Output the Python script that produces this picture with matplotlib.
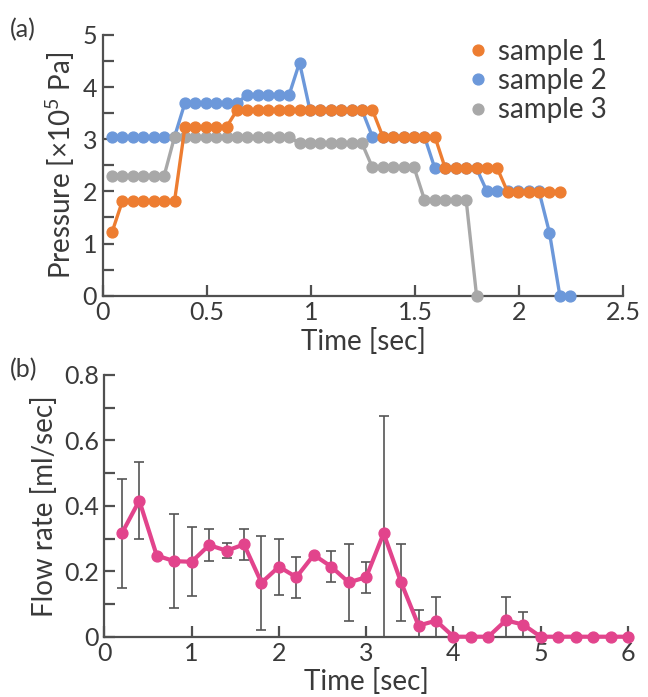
import matplotlib
matplotlib.use("Agg")
import matplotlib.pyplot as plt
from matplotlib.lines import Line2D

plt.rcParams['font.family'] = ['Lato', 'DejaVu Sans']
plt.rcParams['mathtext.fontset'] = 'custom'
plt.rcParams['mathtext.rm'] = 'Lato'
plt.rcParams['mathtext.it'] = 'Lato:italic'

# ---------------- data: panel (a) ----------------
time_a = [0.045, 0.095, 0.145, 0.195, 0.245, 0.295, 0.345, 0.395, 0.445, 0.495,
          0.545, 0.595, 0.645, 0.695, 0.745, 0.795, 0.845, 0.895, 0.945, 0.995,
          1.045, 1.095, 1.145, 1.195, 1.245, 1.295, 1.345, 1.395, 1.445, 1.495,
          1.545, 1.595, 1.645, 1.695, 1.745, 1.795, 1.845, 1.895, 1.945, 1.995,
          2.045, 2.095, 2.145, 2.195, 2.245]

sample1 = [1.22, 1.82, 1.82, 1.82, 1.82, 1.82, 1.82, 3.24, 3.24, 3.24,
           3.24, 3.24, 3.56, 3.56, 3.56, 3.56, 3.56, 3.56, 3.56, 3.56,
           3.56, 3.56, 3.56, 3.56, 3.56, 3.56, 3.05, 3.05, 3.05, 3.05,
           3.05, 3.05, 2.44, 2.44, 2.44, 2.44, 2.44, 2.44, 1.98, 1.98,
           1.98, 1.98, 1.98, 1.98]

sample2 = [3.05, 3.05, 3.05, 3.05, 3.05, 3.05, 3.05, 3.70, 3.70, 3.70,
           3.70, 3.70, 3.70, 3.85, 3.85, 3.85, 3.85, 3.85, 4.47, 3.56,
           3.56, 3.56, 3.56, 3.56, 3.56, 3.05, 3.05, 3.05, 3.05, 3.05,
           3.05, 2.44, 2.44, 2.44, 2.44, 2.44, 2.00, 2.00, 2.00, 2.00,
           2.00, 2.00, 1.21, 0.00, 0.00]

sample3 = [2.30, 2.30, 2.30, 2.30, 2.30, 2.30, 3.05, 3.05, 3.05, 3.05,
           3.05, 3.05, 3.05, 3.05, 3.05, 3.05, 3.05, 3.05, 2.92, 2.92,
           2.92, 2.92, 2.92, 2.92, 2.92, 2.46, 2.46, 2.46, 2.46, 2.46,
           1.84, 1.84, 1.84, 1.84, 1.84, 0.00]

series_names = ["sample 1", "sample 2", "sample 3"]
xticks_a = [0, 0.5, 1, 1.5, 2, 2.5]
xticklabels_a = ["0", "0.5", "1", "1.5", "2", "2.5"]
yticks_a = [0, 1, 2, 3, 4, 5]

# ---------------- data: panel (b) ----------------
time_b = [0.2, 0.4, 0.6, 0.8, 1.0, 1.2, 1.4, 1.6, 1.8, 2.0,
          2.2, 2.4, 2.6, 2.8, 3.0, 3.2, 3.4, 3.6, 3.8, 4.0,
          4.2, 4.4, 4.6, 4.8, 5.0, 5.2, 5.4, 5.6, 5.8, 6.0]
flow = [0.316, 0.416, 0.248, 0.231, 0.229, 0.280, 0.263, 0.282, 0.165, 0.214,
        0.182, 0.250, 0.214, 0.166, 0.182, 0.316, 0.166, 0.034, 0.049, 0.0,
        0.0, 0.0, 0.050, 0.037, 0.0, 0.0, 0.0, 0.0, 0.0, 0.0]
flow_err = [0.166, 0.117, 0.0, 0.143, 0.105, 0.048, 0.023, 0.046, 0.144, 0.086,
            0.063, 0.0, 0.048, 0.118, 0.047, 0.360, 0.117, 0.048, 0.071, 0.0,
            0.0, 0.0, 0.071, 0.038, 0.0, 0.0, 0.0, 0.0, 0.0, 0.0]
xticks_b = [0, 1, 2, 3, 4, 5, 6]
yticks_b = [0, 0.2, 0.4, 0.6, 0.8]
yticklabels_b = ["0", "0.2", "0.4", "0.6", "0.8"]

# ---------------- styling ----------------
c_orange = "#ED7D31"
c_blue = "#6C98DA"
c_gray = "#A8A8A8"
c_pink = "#E2448C"
c_axis = "#505050"
c_text = "#3A3A3A"

fig = plt.figure(figsize=(6.48, 6.97), dpi=100)
fig.patch.set_facecolor("white")

axa = fig.add_axes([0.1585, 0.5758, 0.8035, 0.3740])
axb = fig.add_axes([0.1611, 0.0865, 0.8080, 0.3755])

TICK_FS = 18
LABEL_FS = 20


def style_axis(ax):
    for s in ("top", "right"):
        ax.spines[s].set_visible(False)
    for s in ("left", "bottom"):
        ax.spines[s].set_color(c_axis)
        ax.spines[s].set_linewidth(1.6)
    ax.tick_params(axis="both", which="both", direction="in", color=c_axis,
                   width=1.6, labelsize=TICK_FS, labelcolor=c_text, pad=4)
    ax.tick_params(axis="both", which="major", length=8)
    ax.tick_params(axis="both", which="minor", length=8)


# panel (a)
style_axis(axa)
lw = 2.4
ms = 7.8
s2, = axa.plot(time_a[:len(sample2)], sample2, "-o", color=c_blue, lw=lw, ms=ms,
               zorder=3, clip_on=False)
s3, = axa.plot(time_a[:len(sample3)], sample3, "-o", color=c_gray, lw=lw, ms=ms,
               zorder=4, clip_on=False)
s1, = axa.plot(time_a[:len(sample1)], sample1, "-o", color=c_orange, lw=lw, ms=ms,
               zorder=5, clip_on=False)
axa.set_xlim(0, 2.5)
axa.set_ylim(0, 5)
axa.set_xticks(xticks_a)
axa.set_xticklabels(xticklabels_a)
axa.set_yticks(yticks_a)
axa.set_yticks([0.5, 1.5, 2.5, 3.5, 4.5], minor=True)
axa.set_xlabel("Time [sec]", fontsize=LABEL_FS, color=c_text, labelpad=3)
axa.set_ylabel("Pressure [×10$^5$ Pa]", fontsize=LABEL_FS, color=c_text, labelpad=4)

handles = [Line2D([], [], ls="none", marker="o", ms=ms, color=c)
           for c in (c_orange, c_blue, c_gray)]
leg = axa.legend(handles, series_names, loc="upper right",
                 bbox_to_anchor=(1.0, 1.05), frameon=False, fontsize=LABEL_FS,
                 handletextpad=0.2, labelspacing=0.12, handlelength=1.0,
                 borderaxespad=0.2)
for t in leg.get_texts():
    t.set_color(c_text)

fig.text(0.015, 0.958, "(a)", fontsize=TICK_FS, color=c_text, va="center")

# panel (b)
style_axis(axb)
axb.errorbar(time_b, flow, yerr=flow_err, fmt="none", ecolor="#555555",
             elinewidth=1.2, capsize=3.5, capthick=1.2, zorder=2)
axb.plot(time_b, flow, "-o", color=c_pink, lw=3.0, ms=7.8, zorder=4,
         clip_on=False)
axb.set_xlim(0, 6)
axb.set_ylim(0, 0.8)
axb.set_xticks(xticks_b)
axb.set_yticks(yticks_b)
axb.set_yticklabels(yticklabels_b)
axb.set_yticks([0.1, 0.3, 0.5, 0.7], minor=True)
axb.set_xlabel("Time [sec]", fontsize=LABEL_FS, color=c_text, labelpad=2)
axb.set_ylabel("Flow rate [ml/sec]", fontsize=LABEL_FS, color=c_text, labelpad=4)

fig.text(0.015, 0.47, "(b)", fontsize=TICK_FS, color=c_text, va="center")

fig.savefig("out.png", dpi=100, facecolor="white")
